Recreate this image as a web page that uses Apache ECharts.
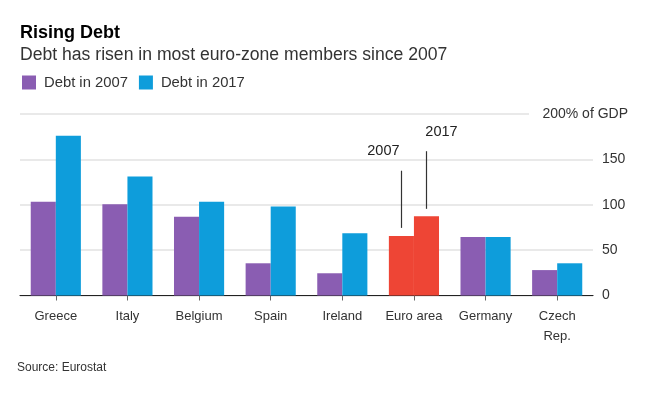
<!DOCTYPE html>
<html><head><meta charset="utf-8">
<script src="https://cdn.jsdelivr.net/npm/echarts@6/dist/echarts.min.js"></script>
<style>html,body{margin:0;padding:0;background:#fff}#c{width:652px;height:398px}</style>
</head><body><div id="c"></div>
<script>
const categories = ['Greece','Italy','Belgium','Spain','Ireland','Euro area','Germany','Czech\nRep.'];
const debt2007 = [103.4, 100.5, 86.8, 35.5, 24.5, 65.6, 64.5, 28];
const debt2017 = [176, 131, 103.4, 98, 68.5, 87.3, 64.5, 35.5];
const yTicks = [0, 50, 100, 150, 200];
const highlight = 'Euro area';
const annot2007 = {label: '2007', from: 74.5, to: 137.5};
const annot2017 = {label: '2017', from: 95.5, to: 159};

const FONT = "'Liberation Sans', Arial, sans-serif";
const PURPLE = '#8a5db2', BLUE = '#0e9ddb', RED = '#ee4535';

function mk(vals, color) {
  return vals.map((v, i) => ({
    value: v,
    itemStyle: { color: categories[i] === highlight ? RED : color }
  }));
}
function annot(a) {
  return {
    silent: true, symbol: 'none',
    lineStyle: { color: '#333', width: 1.2, type: 'solid' },
    label: { show: true, position: 'end', formatter: a.label, color: '#222', fontSize: 14.5, fontFamily: FONT,
             offset: [a.label === '2007' ? -18 : 15, -7] },
    data: [[{ coord: [highlight, a.from] }, { coord: [highlight, a.to] }]]
  };
}

const chart = echarts.init(document.getElementById('c'), null, { renderer: 'canvas' });
chart.setOption({
  animation: false,
  textStyle: { fontFamily: FONT },
  title: [
    { text: 'Rising Debt', left: 20, top: 24, padding: 0,
      textStyle: { fontSize: 18, fontWeight: 'bold', color: '#000', fontFamily: FONT } },
    { text: 'Debt has risen in most euro-zone members since 2007', left: 20, top: 46, padding: 0,
      textStyle: { fontSize: 17.6, fontWeight: 'normal', color: '#333', fontFamily: FONT } },
    { text: 'Source: Eurostat', left: 17, top: 362, padding: 0,
      textStyle: { fontSize: 12, fontWeight: 'normal', color: '#333', fontFamily: FONT } }
  ],
  legend: {
    left: 22, top: 75, padding: 0, itemWidth: 14, itemHeight: 14, itemGap: 11,
    icon: 'rect',
    textStyle: { fontSize: 14.8, color: '#333', fontFamily: FONT, padding: [0, 0, 0, 3] },
    data: [{ name: 'Debt in 2007', itemStyle: { color: PURPLE } }, { name: 'Debt in 2017', itemStyle: { color: BLUE } }]
  },
  grid: { left: 20, right: 59, top: 114, bottom: 102.5, containLabel: false },
  xAxis: {
    type: 'category', data: categories,
    axisLine: { lineStyle: { color: '#222', width: 1.2 } },
    axisTick: { show: true, alignWithLabel: true, length: 5, lineStyle: { color: '#666' } },
    axisLabel: { fontSize: 13, color: '#333', lineHeight: 20, margin: 11, fontFamily: FONT, interval: 0 }
  },
  yAxis: {
    type: 'value', position: 'right', min: 0, max: 200, interval: 50,
    axisLine: { show: false }, axisTick: { show: false },
    splitLine: { lineStyle: { color: '#e2e2e2', width: 1.5 } },
    axisLabel: { fontSize: 14, color: '#333', margin: 9, fontFamily: FONT,
      formatter: v => (v === yTicks[yTicks.length - 1] ? '' : String(v)) }
  },
  series: [
    { name: 'Debt in 2007', type: 'bar', barGap: '0%', barCategoryGap: '30%',
      itemStyle: { color: PURPLE }, data: mk(debt2007, PURPLE), markLine: annot(annot2007) },
    { name: 'Debt in 2017', type: 'bar', barGap: '0%', barCategoryGap: '30%',
      itemStyle: { color: BLUE }, data: mk(debt2017, BLUE), markLine: annot(annot2017) }
  ]
});
// top label "200% of GDP" placed at the top gridline
const yTop = chart.convertToPixel({ yAxisIndex: 0 }, yTicks[yTicks.length - 1]);
chart.setOption({
  graphic: [
    { type: 'rect', shape: { x: 529, y: yTop - 2, width: 70, height: 4 }, style: { fill: '#fff' }, z: 5 },
    { type: 'text', x: 628, y: yTop, z: 6,
      style: { text: yTicks[yTicks.length - 1] + '% of GDP', font: '14px ' + FONT, fill: '#333',
               textAlign: 'right', textVerticalAlign: 'middle' } }
  ]
});
</script></body></html>
